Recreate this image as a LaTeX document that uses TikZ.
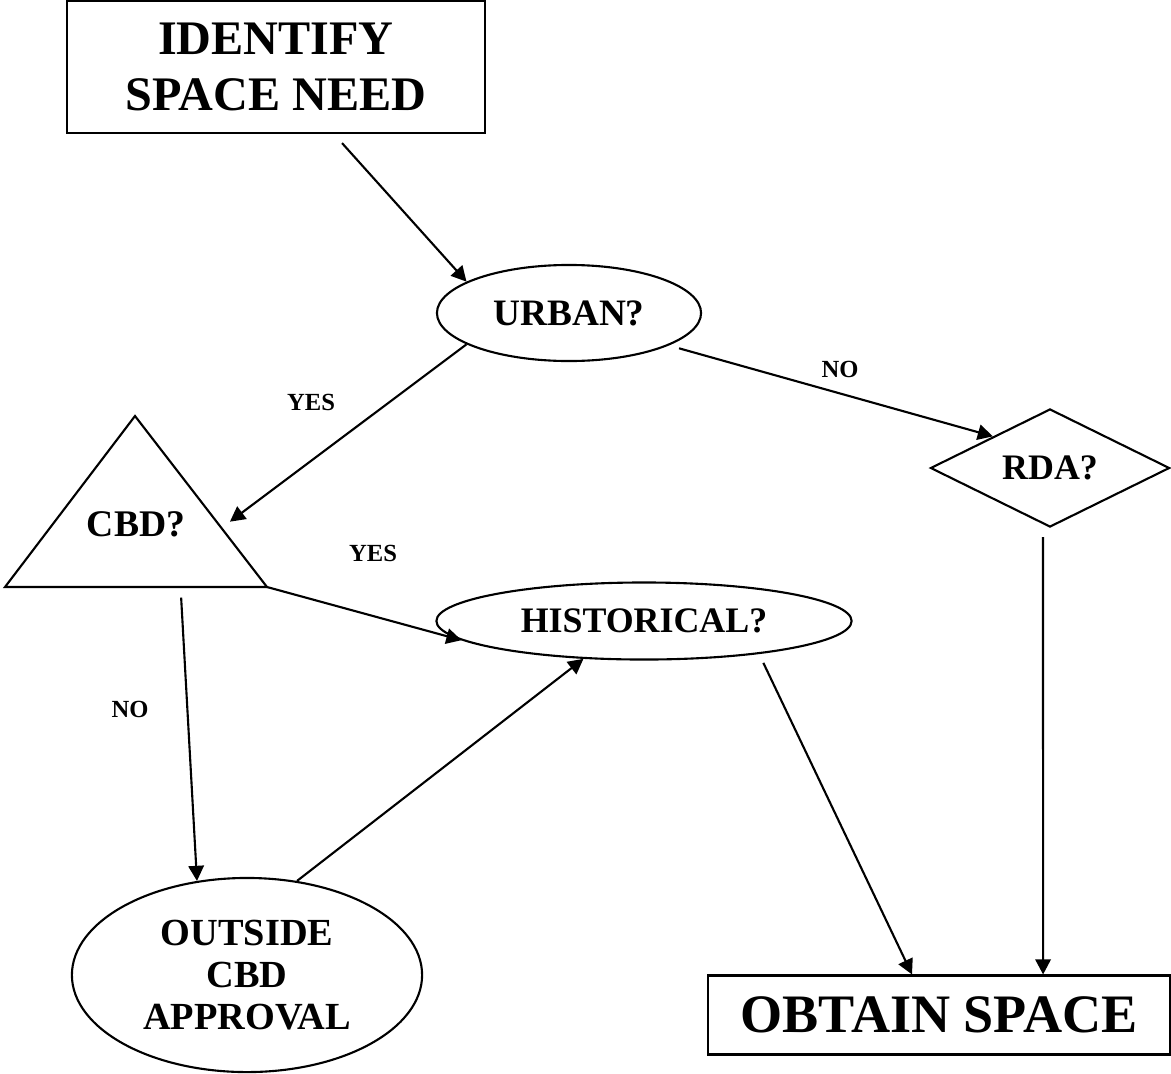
\documentclass[tikz,border=0pt]{standalone}
\usepackage{fontspec}
\setmainfont{Liberation Serif}
\usetikzlibrary{arrows.meta,shapes.geometric,calc}

\begin{document}
\begin{tikzpicture}[x=0.01cm,y=-0.01cm,
    box/.style={draw,line width=0.6pt,inner sep=0pt,align=center},
    oval/.style={draw,ellipse,line width=0.6pt,inner sep=0pt,align=center,font=\bfseries\fontsize{10.2}{12}\selectfont},
    lbl/.style={font=\bfseries\fontsize{7}{8}\selectfont},
    arr/.style={-{Triangle[length=4.3pt,width=4.4pt]},line width=0.6pt}
]
\useasboundingbox (0,0) rectangle (1171,1073);

\node[box,minimum width=4.18cm,minimum height=1.32cm,font=\bfseries\fontsize{13.7}{16}\selectfont] (identify) at (276,67) {IDENTIFY\\SPACE NEED};
\node[oval,minimum width=2.64cm,minimum height=0.96cm,font=\bfseries\fontsize{10.6}{12}\selectfont] (urban) at (569,313) {URBAN?};
\node[draw,diamond,aspect=2,line width=0.6pt,inner sep=0pt,minimum width=2.39cm,minimum height=1.18cm,font=\bfseries\fontsize{10.2}{12}\selectfont] (rda) at (1050,468) {RDA?};
\node[oval,minimum width=4.15cm,minimum height=0.77cm] (hist) at (644,621) {HISTORICAL?};
\node[oval,minimum width=3.5cm,minimum height=1.94cm,font=\bfseries\fontsize{10.9}{12}\selectfont] (outside) at (247,975) {OUTSIDE\\CBD\\APPROVAL};
\node[box,minimum width=4.62cm,minimum height=0.79cm,font=\bfseries\fontsize{15.4}{17}\selectfont] (obtain) at (939,1015) {OBTAIN SPACE};

% triangle for the CBD test
\coordinate (cbdtop) at (135,416);
\coordinate (cbdleft) at (5,587);
\coordinate (cbdright) at (267,587);
\draw[line width=0.6pt] (cbdtop) -- (cbdright) -- (cbdleft) -- cycle;
\node[font=\bfseries\fontsize{10.7}{12}\selectfont] (cbd) at (136,524) {CBD?};
\coordinate (cbdin) at ($(cbdtop)!0.655!(cbdright)$);
\coordinate (cbdout) at ($(cbdleft)!0.67!(cbdright)$);

\node[lbl] (yes1) at (311,402) {YES};
\node[lbl] (no1) at (840,369) {NO};
\node[lbl] (yes2) at (373,553) {YES};
\node[lbl] (no2) at (130,709) {NO};

\draw[arr] ([xshift=0.66cm,yshift=-0.09cm]identify.south) -- (urban.163);
\draw[arr,shorten >=3pt] (urban.197) -- (cbdin);
\draw[arr,shorten <=3pt] (urban.-18) -- (rda.151.5);
\draw[arr] (cbdright) -- (hist.186.5);
\draw[arr,shorten <=3pt] (cbdout) -- (outside.118);
\draw[arr] (outside.62) -- (hist.212.6);
\draw[arr,shorten <=2.8pt] (hist.-16.5) -- ([xshift=-0.27cm]obtain.north);
\draw[arr] ([xshift=-0.07cm,yshift=-0.09cm]rda.south) -- ([xshift=1.04cm]obtain.north);
\end{tikzpicture}
\end{document}
